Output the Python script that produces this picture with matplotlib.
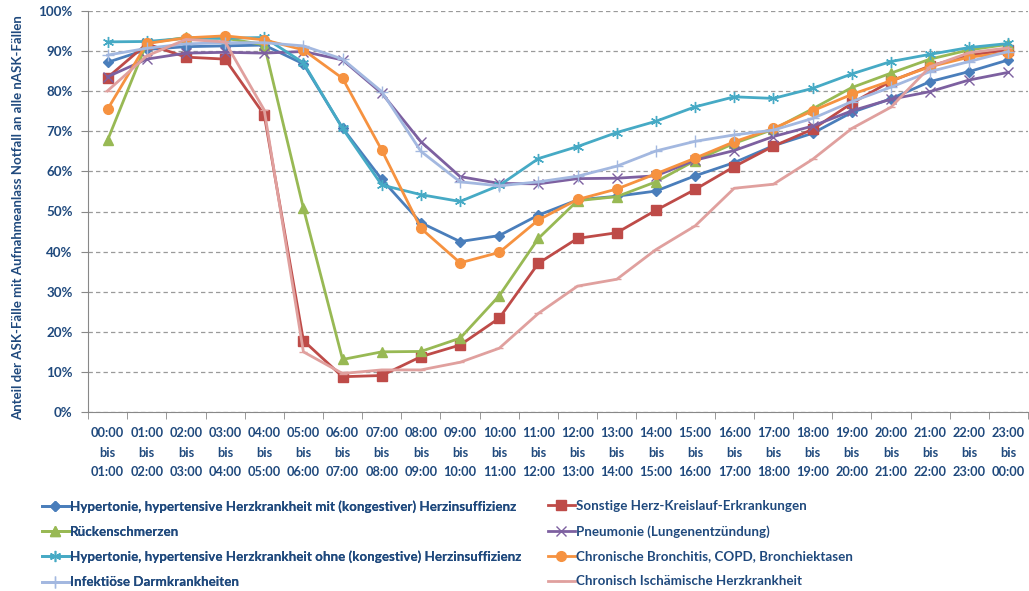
import matplotlib.pyplot as plt
from matplotlib.font_manager import FontProperties

plt.rcParams['font.family'] = ['Lato', 'DejaVu Sans']

# hour slots
hours = ["%02d:00\nbis\n%02d:00" % (h, (h + 1) % 24) for h in range(24)]

hyp_mit = [87.2, 90.4, 91.1, 91.3, 91.5, 86.8, 70.8, 58.0, 47.2, 42.5, 44.0, 49.1,
           52.9, 53.8, 55.1, 58.9, 62.2, 66.4, 69.5, 74.7, 78.1, 82.4, 84.9, 87.8]
sonstige = [83.4, 91.8, 88.5, 88.0, 74.1, 17.8, 8.8, 9.1, 13.8, 16.7, 23.4, 37.1,
            43.3, 44.7, 50.3, 55.5, 61.2, 66.3, 70.5, 77.0, 82.5, 86.3, 89.0, 90.3]
ruecken = [67.8, 92.0, 93.4, 93.2, 91.6, 50.8, 13.1, 15.0, 15.1, 18.4, 29.0, 43.3,
           52.7, 53.7, 57.4, 62.7, 67.0, 70.5, 75.6, 80.9, 84.5, 88.0, 90.3, 91.7]
pneumonie = [83.6, 88.0, 89.5, 89.7, 89.5, 89.9, 87.8, 79.5, 67.4, 58.7, 57.0, 56.9,
             58.2, 58.3, 58.9, 62.8, 65.2, 68.7, 71.3, 75.1, 78.0, 79.9, 82.8, 84.7]
hyp_ohne = [92.3, 92.4, 93.2, 93.2, 93.4, 87.1, 70.7, 56.6, 54.2, 52.5, 56.5, 63.2,
            66.2, 69.7, 72.5, 76.1, 78.6, 78.2, 80.7, 84.3, 87.4, 89.2, 90.9, 91.9]
bronchitis = [75.5, 91.9, 93.3, 93.8, 92.8, 90.3, 83.2, 65.3, 45.8, 37.2, 39.8, 47.9,
              53.0, 55.6, 59.4, 63.3, 67.4, 70.7, 75.1, 79.2, 82.6, 86.1, 88.5, 89.6]
darm = [89.0, 90.7, 91.8, 92.1, 92.1, 91.3, 88.0, 79.9, 65.0, 57.4, 56.4, 57.4,
        58.8, 61.3, 65.1, 67.5, 69.1, 70.3, 73.2, 77.4, 81.0, 84.9, 87.4, 89.9]
ischaemisch = [80.1, 88.8, 92.9, 92.3, 75.3, 15.0, 9.6, 10.5, 10.5, 12.4, 15.9, 24.6,
               31.4, 33.1, 40.5, 46.4, 55.8, 56.8, 63.0, 70.7, 76.0, 86.1, 89.6, 90.8]

labels = [
    "Hypertonie, hypertensive Herzkrankheit mit (kongestiver) Herzinsuffizienz",
    "Sonstige Herz-Kreislauf-Erkrankungen",
    "Rückenschmerzen",
    "Pneumonie (Lungenentzündung)",
    "Hypertonie, hypertensive Herzkrankheit ohne (kongestive) Herzinsuffizienz",
    "Chronische Bronchitis, COPD, Bronchiektasen",
    "Infektiöse Darmkrankheiten",
    "Chronisch Ischämische Herzkrankheit",
]
series = [hyp_mit, sonstige, ruecken, pneumonie, hyp_ohne, bronchitis, darm, ischaemisch]
colors = ["#4A7EBB", "#BE4B48", "#98B954", "#7D60A0", "#46AAC5", "#F69240", "#A3B8E0", "#E0A09E"]
markers = ["D", "s", "^", "x", (6, 2, 0), "o", "+", "_"]
msizes = [5, 6.5, 6.5, 6.5, 8, 7, 8, 6]

txt = "#1F497D"

fig = plt.figure(figsize=(10.29, 5.91), dpi=100)
ax = fig.add_axes([88 / 1029, 1 - 412 / 591, 940 / 1029, 401 / 591])

x = list(range(len(hours)))
handles = []
for vals, lab, c, m, ms in zip(series, labels, colors, markers, msizes):
    h, = ax.plot(x, vals, color=c, lw=2.0, marker=m, markersize=ms,
                 markeredgecolor=c, markerfacecolor=c, markeredgewidth=1.0, label=lab)
    handles.append(h)

ax.set_xlim(-0.5, 23.5)
ax.set_ylim(0, 100)
ax.set_yticks(range(0, 101, 10))
ax.set_yticklabels(["%d%%" % v for v in range(0, 101, 10)])
ax.yaxis.grid(True, color="#9A9A9A", linestyle=(0, (3.5, 2.5)), linewidth=0.9)
ax.set_axisbelow(True)

ax.set_xticks(x)
ax.set_xticklabels(hours, linespacing=1.76)
ax.set_xticks([i - 0.5 for i in range(25)], minor=True)
ax.tick_params(axis="x", which="major", length=0, pad=11)
ax.tick_params(axis="x", which="minor", length=5, color="#888888", direction="out")
ax.tick_params(axis="y", length=5, color="#888888", pad=6)
for t in ax.get_xticklabels():
    t.set_color(txt)
    t.set_fontweight("bold")
    t.set_fontsize(9.2)
for t in ax.get_yticklabels():
    t.set_color(txt)
    t.set_fontweight("bold")
    t.set_fontsize(9.6)

for s in ["top", "right"]:
    ax.spines[s].set_visible(False)
for s in ["left", "bottom"]:
    ax.spines[s].set_color("#888888")

fig.text(18 / 1029, 1 - 218 / 591, "Anteil der ASK-Fälle mit Aufnahmeanlass Notfall an alle nASK-Fällen",
         rotation=90, ha="center", va="center", color=txt, fontweight="bold", fontsize=9.5)

# two legend columns placed separately
leg_kw = dict(frameon=False, loc="upper left", handlelength=2.0, handletextpad=0.1,
              labelspacing=0.97, borderaxespad=0, borderpad=0, labelcolor=txt)
leg1 = fig.legend(handles[0::2], labels[0::2], bbox_to_anchor=(42 / 1029, 1 - 500 / 591),
                  prop=FontProperties(family=["Lato", "DejaVu Sans"], weight="bold", size=9.6), **leg_kw)
fig.add_artist(leg1)
fig.legend(handles[1::2], labels[1::2], bbox_to_anchor=(548 / 1029, 1 - 500 / 591),
           prop=FontProperties(family=["Lato", "DejaVu Sans"], weight="bold", size=9.6), **leg_kw)

fig.savefig("out.png", dpi=100)
